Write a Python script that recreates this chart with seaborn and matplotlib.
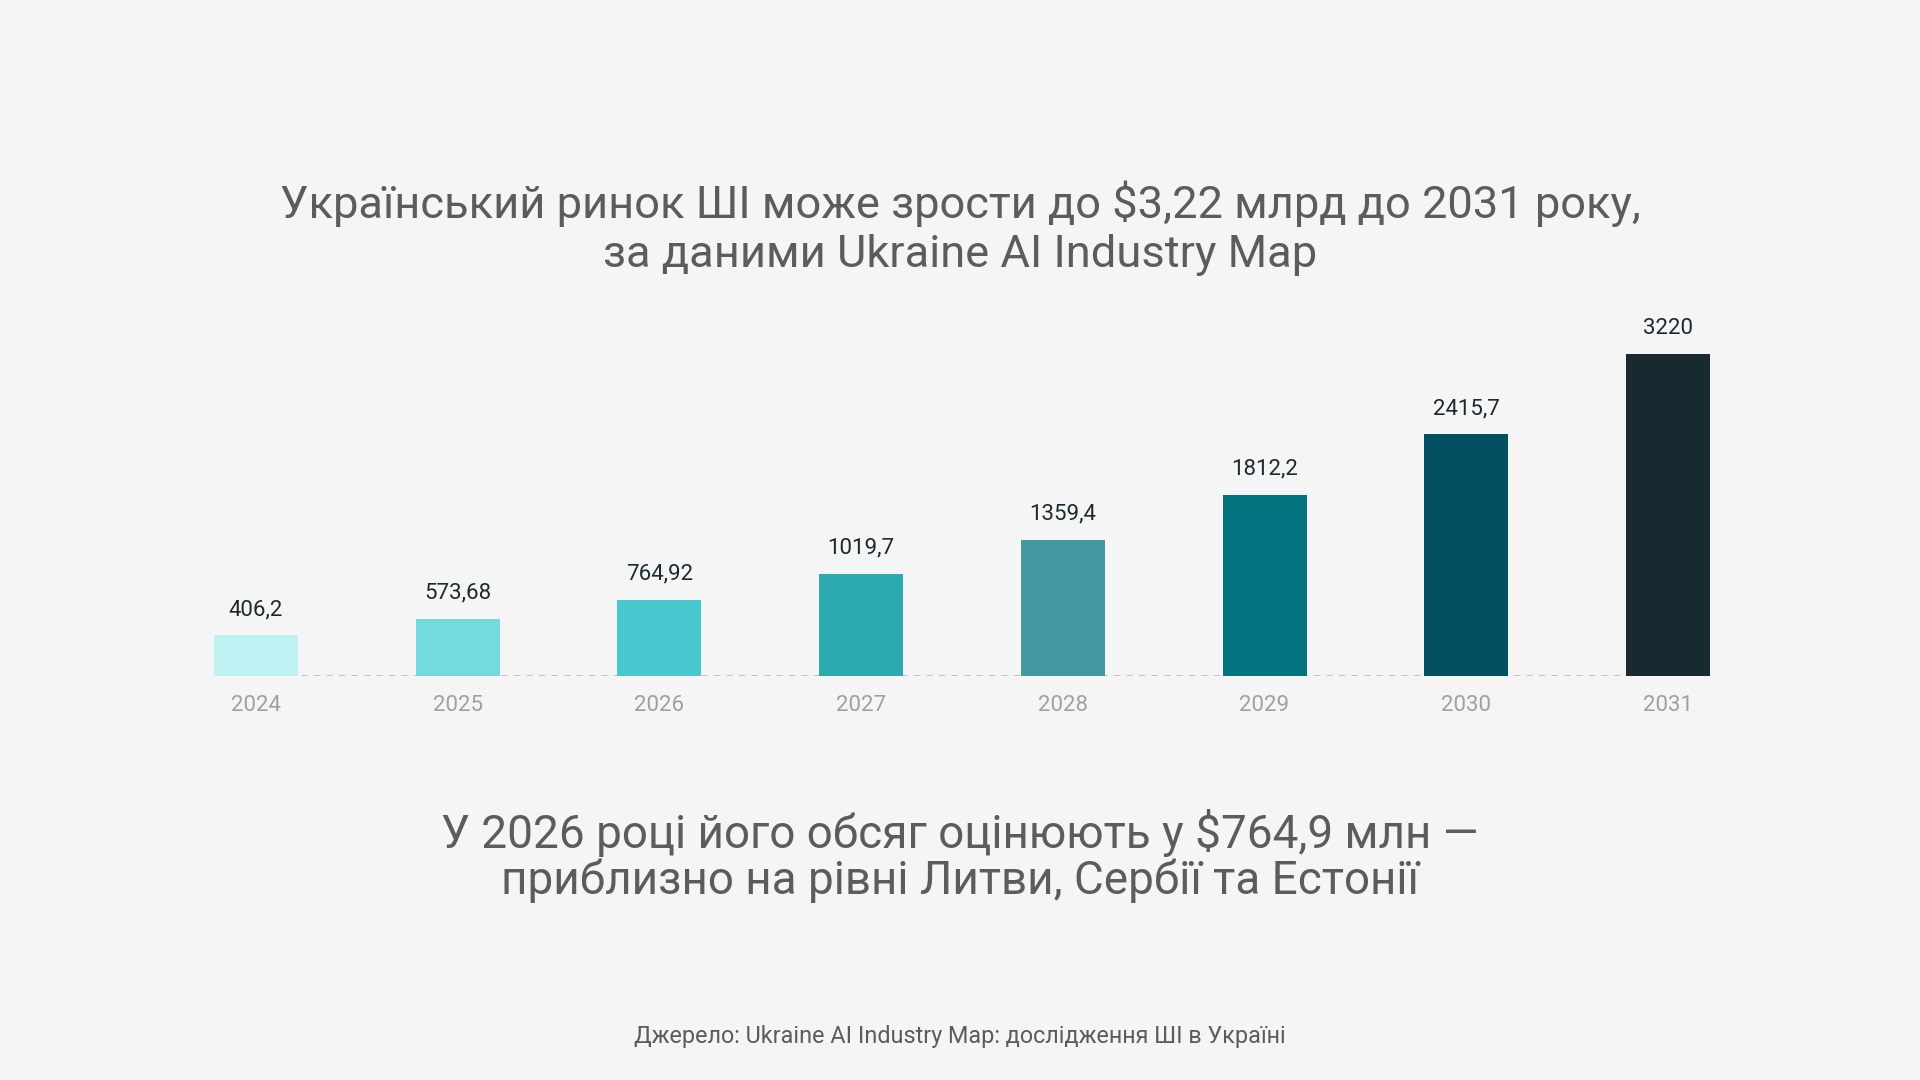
import matplotlib
matplotlib.use("Agg")
import matplotlib.pyplot as plt
import seaborn as sns
import pandas as pd

# data
years = ["2024", "2025", "2026", "2027", "2028", "2029", "2030", "2031"]
market = [406.2, 573.68, 764.92, 1019.7, 1359.4, 1812.2, 2415.7, 3220]
bar_colors = ["#BEF2F3", "#74DADF", "#49C7CE", "#2DA9B0",
              "#4398A1", "#03737F", "#025062", "#18292F"]

title = "Український ринок ШІ може зрости до $3,22 млрд до 2031 року,\nза даними Ukraine AI Industry Map"
subtitle = "У 2026 році його обсяг оцінюють у $764,9 млн —\nприблизно на рівні Литви, Сербії та Естонії"
source = "Джерело: Ukraine AI Industry Map: дослідження ШІ в Україні"

bg = "#F5F5F5"
sns.set_style("white")
plt.rcParams['font.family'] = ['Roboto', 'DejaVu Sans']

df = pd.DataFrame({"year": years, "value": market})

fig = plt.figure(figsize=(19.2, 10.8), dpi=100, facecolor=bg)
ax = fig.add_axes([214/1920, (1080-676)/1080, (1710-214)/1920, 322/1080])
ax.set_facecolor(bg)

w = 84/201.6
sns.barplot(data=df, x="year", y="value", hue="year", palette=bar_colors,
            width=w, legend=False, ax=ax, saturation=1, zorder=2,
            edgecolor="none", linewidth=0)

ax.axhline(0, color="#C4C4C4", lw=1.5, ls=(0, (3, 3)), zorder=1)

for cont, v in zip(ax.containers, market):
    lab = f"{v:g}".replace(".", ",")
    ax.bar_label(cont, labels=[lab], padding=11, fontsize=16, color="#1B2A30")

ax.set_xlim(-w/2, len(years) - 1 + w/2)
ax.set_ylim(0, 3220)
ax.set_xlabel("")
ax.set_ylabel("")
ax.set_yticks([])
ax.tick_params(axis="x", length=0, pad=14, labelsize=16, labelcolor="#A0A0A0")
sns.despine(ax=ax, left=True, bottom=True)

fig.text(0.5, 1 - 228/1080, title, ha="center", va="center", fontsize=32.6,
         color="#5C5C5C", linespacing=1.2)
fig.text(0.5, 1 - 856/1080, subtitle, ha="center", va="center", fontsize=33,
         color="#5C5C5C", linespacing=1.05)
fig.text(0.5, 1 - 1036/1080, source, ha="center", va="center", fontsize=16.8,
         color="#5C5C5C")

fig.savefig("out.png", dpi=100, facecolor=bg)
